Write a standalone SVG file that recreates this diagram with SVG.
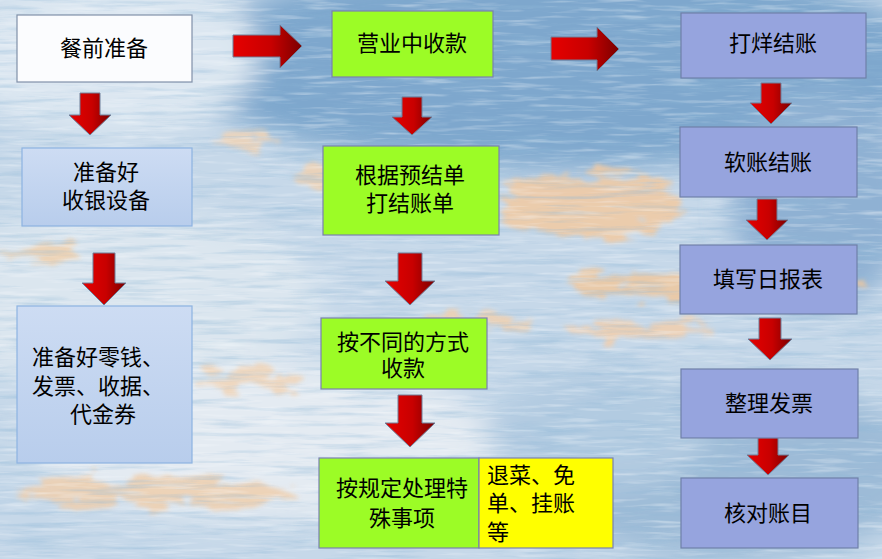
<svg xmlns="http://www.w3.org/2000/svg" width="882" height="559" viewBox="0 0 882 559">
<style>
  .t { font-family: "Liberation Sans", "Noto Sans CJK SC", sans-serif; font-size: 22px; fill: #000; }
  .c { text-anchor: middle; }
  .arrow { fill: url(#red); stroke: #6f7f99; stroke-width: 1; }
  .white { fill: #fbfcfe; stroke: #8090a8; stroke-width: 1.2; }
  .lblue { fill: url(#lb); stroke: #8db3e2; stroke-width: 1.2; }
  .green { fill: #9cfc26; stroke: #7a80b0; stroke-width: 1.2; }
  .yellow { fill: #ffff00; stroke: #7a80b0; stroke-width: 1.2; }
  .purple { fill: #96a4de; stroke: #6f80a8; stroke-width: 1.2; }
</style>
<defs>
  <linearGradient id="red" x1="0" y1="0" x2="1" y2="0">
    <stop offset="0" stop-color="#e60000"/>
    <stop offset="0.55" stop-color="#c80000"/>
    <stop offset="1" stop-color="#7a0000"/>
  </linearGradient>
  <linearGradient id="lb" x1="0" y1="0" x2="0" y2="1">
    <stop offset="0" stop-color="#cddcf3"/>
    <stop offset="1" stop-color="#b8cdec"/>
  </linearGradient>
  <filter id="blur" x="-50%" y="-50%" width="200%" height="200%"><feGaussianBlur stdDeviation="14"/></filter>
  <filter id="rough" x="-30%" y="-30%" width="160%" height="160%">
    <feTurbulence type="fractalNoise" baseFrequency="0.03 0.08" numOctaves="3" seed="3" result="n"/>
    <feDisplacementMap in="SourceGraphic" in2="n" scale="40" xChannelSelector="R" yChannelSelector="G"/>
    <feGaussianBlur stdDeviation="2"/>
  </filter>
  <filter id="tex" x="0" y="0" width="100%" height="100%">
    <feTurbulence type="fractalNoise" baseFrequency="0.012 0.18" numOctaves="4" seed="7"/>
    <feColorMatrix type="matrix" values="0 0 0 0 0.28  0 0 0 0 0.48  0 0 0 0 0.68  0 0 0 2.2 -1.05"/>
  </filter>
  <filter id="tex2" x="0" y="0" width="100%" height="100%">
    <feTurbulence type="fractalNoise" baseFrequency="0.02 0.25" numOctaves="3" seed="11"/>
    <feColorMatrix type="matrix" values="0 0 0 0 0.95  0 0 0 0 0.97  0 0 0 0 0.99  0 0 0 2.2 -1.1"/>
  </filter>
</defs>

<g id="background">
  <rect x="0" y="0" width="882" height="559" fill="#c6d8e9"/>
  <g filter="url(#blur)">
    <ellipse cx="560" cy="65" rx="380" ry="105" fill="#7ea7cd"/>
    <ellipse cx="110" cy="55" rx="150" ry="80" fill="#dce7f1"/>
    <ellipse cx="120" cy="300" rx="200" ry="90" fill="#dbe6ef"/>
    <ellipse cx="260" cy="440" rx="230" ry="80" fill="#e4ebf2"/>
    <ellipse cx="730" cy="470" rx="200" ry="90" fill="#9dbbd7"/>
    <ellipse cx="820" cy="200" rx="90" ry="110" fill="#8fb1d3"/>
    <ellipse cx="600" cy="430" rx="110" ry="60" fill="#b2cbe1"/>
  </g>
  <g filter="url(#rough)" opacity="0.85">
    <ellipse cx="590" cy="205" rx="90" ry="32" fill="#f2caa2"/>
    <ellipse cx="330" cy="175" rx="35" ry="14" fill="#f0d2b2"/>
    <ellipse cx="720" cy="285" rx="150" ry="14" fill="#f0c89e"/>
    <ellipse cx="640" cy="330" rx="70" ry="9" fill="#f2cfae"/>
    <ellipse cx="160" cy="492" rx="140" ry="14" fill="#efcfae"/>
    <ellipse cx="250" cy="380" rx="50" ry="10" fill="#f0d4b8"/>
    <ellipse cx="40" cy="252" rx="35" ry="10" fill="#efd0ae"/>
    <ellipse cx="480" cy="322" rx="50" ry="8" fill="#f0d0b0"/>
    <ellipse cx="250" cy="140" rx="30" ry="8" fill="#f0d4b8"/>
  </g>
  <rect x="0" y="0" width="882" height="559" filter="url(#tex)" opacity="0.5"/>
  <rect x="0" y="0" width="882" height="559" filter="url(#tex2)" opacity="0.45"/>
</g>

<g id="connectors">
  <path class="arrow" d="M80,93 H100 V115 H111 L90,135 L69,115 H80 Z"/>
  <path class="arrow" d="M93,253 H115 V283 H126 L104,305 L82,283 H93 Z"/>
  <path class="arrow" d="M233,35 H280 V25 L302,46 L280,68 V57 H233 Z"/>
  <path class="arrow" d="M551,37 H597 V27 L619,49 L597,71 V60 H551 Z"/>
  <path class="arrow" d="M402,97 H422 V117 H432 L412,135 L392,117 H402 Z"/>
  <path class="arrow" d="M398,253 H422 V281 H435 L410,305 L385,281 H398 Z"/>
  <path class="arrow" d="M398,395 H422 V423 H435 L410,447 L385,423 H398 Z"/>
  <path class="arrow" d="M761,83 H781 V103 H792 L771,124 L750,103 H761 Z"/>
  <path class="arrow" d="M757,199 H777 V220 H788 L767,240 L746,220 H757 Z"/>
  <path class="arrow" d="M759,318 H781 V339 H792 L770,360 L748,339 H759 Z"/>
  <path class="arrow" d="M758,434 H778 V455 H789 L768,475 L747,455 H758 Z"/>
</g>

<g id="n1"><rect class="white" x="17" y="15" width="175" height="67"/>
  <text class="t c" x="104" y="56">餐前准备</text></g>
<g id="n2"><rect class="lblue" x="22" y="148" width="170" height="78"/>
  <text class="t c" x="106" y="180">准备好</text>
  <text class="t c" x="106" y="208">收银设备</text></g>
<g id="n3"><rect class="lblue" x="17" y="306" width="175" height="157"/>
  <text class="t" x="32" y="365">准备好零钱、</text>
  <text class="t" x="32" y="394">发票、收据、</text>
  <text class="t c" x="103" y="422">代金券</text></g>

<g id="n4"><rect class="green" x="332" y="11" width="161" height="66"/>
  <text class="t c" x="412" y="51">营业中收款</text></g>
<g id="n5"><rect class="green" x="323" y="146" width="176" height="89"/>
  <text class="t c" x="410" y="183">根据预结单</text>
  <text class="t c" x="410" y="211">打结账单</text></g>
<g id="n6"><rect class="green" x="321" y="318" width="166" height="71"/>
  <text class="t c" x="403" y="350">按不同的方式</text>
  <text class="t c" x="403" y="376">收款</text></g>
<g id="n7"><rect class="green" x="319" y="458" width="160" height="90"/>
  <text class="t c" x="402" y="496">按规定处理特</text>
  <text class="t c" x="402" y="526">殊事项</text></g>
<g id="n8"><rect class="yellow" x="479" y="458" width="134" height="90"/>
  <text class="t" x="487" y="483">退菜、免</text>
  <text class="t" x="487" y="511">单、挂账</text>
  <text class="t" x="487" y="540">等</text></g>

<g id="n9"><rect class="purple" x="681" y="13" width="185" height="65"/>
  <text class="t c" x="773" y="51">打烊结账</text></g>
<g id="n10"><rect class="purple" x="680" y="127" width="177" height="70"/>
  <text class="t c" x="768" y="170">软账结账</text></g>
<g id="n11"><rect class="purple" x="680" y="245" width="177" height="69"/>
  <text class="t c" x="768" y="287">填写日报表</text></g>
<g id="n12"><rect class="purple" x="681" y="369" width="177" height="69"/>
  <text class="t c" x="769" y="411">整理发票</text></g>
<g id="n13"><rect class="purple" x="681" y="478" width="177" height="70"/>
  <text class="t c" x="768" y="521">核对账目</text></g>
</svg>
